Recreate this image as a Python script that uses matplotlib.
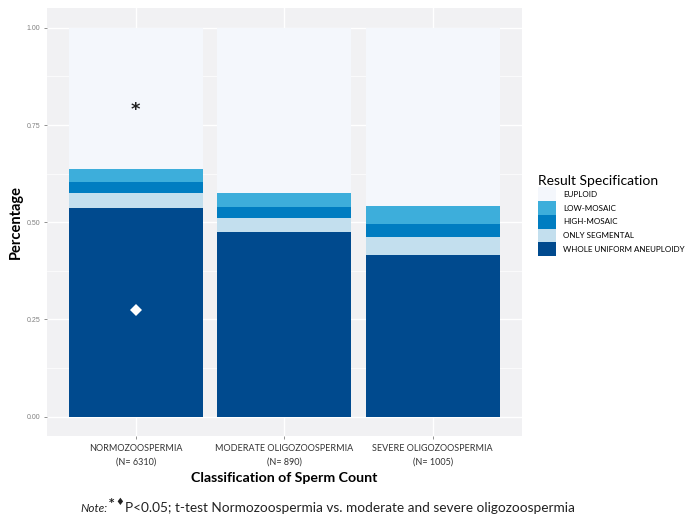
import matplotlib
matplotlib.use("Agg")
import matplotlib.pyplot as plt
from matplotlib.patches import Patch
import numpy as np

categories = ["NORMOZOOSPERMIA\n(N= 6310)", "MODERATE OLIGOZOOSPERMIA\n(N= 890)", "SEVERE OLIGOZOOSPERMIA\n(N= 1005)"]
series_names = ["WHOLE UNIFORM ANEUPLOIDY", "ONLY SEGMENTAL", "HIGH-MOSAIC", "LOW-MOSAIC", "EUPLOID"]
whole = [0.537, 0.475, 0.415]
segmental = [0.039, 0.037, 0.048]
high_mosaic = [0.028, 0.026, 0.033]
low_mosaic = [0.033, 0.037, 0.046]
euploid = [0.363, 0.425, 0.458]
colors = {"WHOLE UNIFORM ANEUPLOIDY": "#004A8E", "ONLY SEGMENTAL": "#C3DFEE",
          "HIGH-MOSAIC": "#007DC1", "LOW-MOSAIC": "#3DAEDB", "EUPLOID": "#F4F7FC"}
yticks = [0.0, 0.25, 0.5, 0.75, 1.0]
ytick_labels = ["0.00", "0.25", "0.50", "0.75", "1.00"]

FONT = "Lato"

fig = plt.figure(figsize=(6.93, 5.14), dpi=100)
ax = fig.add_axes([0.0674, 0.1518, 0.6857, 0.8317])
ax.set_facecolor("#F1F1F3")

x = np.arange(1, len(categories) + 1)
values = [whole, segmental, high_mosaic, low_mosaic, euploid]
bottom = np.zeros(len(categories))
for name, vals in zip(series_names, values):
    ax.bar(x, vals, width=0.9, bottom=bottom, color=colors[name], linewidth=0, zorder=3)
    bottom += np.array(vals)

ax.set_xlim(0.4, 3.6)
ax.set_ylim(-0.05, 1.05)
ax.set_yticks(yticks)
ax.set_yticklabels(ytick_labels, family="Liberation Sans")
ax.set_yticks([0.125, 0.375, 0.625, 0.875], minor=True)
ax.set_xticks(x)
ax.set_xticklabels(categories, family=FONT, fontsize=6.5, color="#333333", linespacing=1.6)
ax.tick_params(axis="y", labelsize=5, labelcolor="#808080", length=2.5, color="#808080", width=0.6, pad=2)
ax.tick_params(axis="y", which="minor", length=0)
ax.tick_params(axis="x", length=2.5, color="#808080", width=0.6, pad=3.5)
ax.grid(True, which="major", color="white", linewidth=1.0, zorder=0)
ax.grid(True, which="minor", axis="y", color="white", linewidth=0.5, zorder=0)
for s in ax.spines.values():
    s.set_visible(False)

ax.set_ylabel("Percentage", family=FONT, fontsize=10.5, fontweight="bold")
ax.yaxis.set_label_coords(-0.05, 0.5)
ax.set_xlabel("Classification of Sperm Count", family=FONT, fontsize=10.2, fontweight="bold")
ax.xaxis.set_label_coords(0.5, -0.084)

# significance markers
ax.text(x[0], 0.79, "*", ha="center", va="center", fontsize=13, fontweight="bold", color="#222222", zorder=5)
ax.plot([x[0]], [0.275], marker="D", markersize=6.5, color="white", markeredgewidth=0, zorder=5)

handles = [Patch(facecolor=colors[n], edgecolor="none") for n in series_names[::-1]]
leg = fig.legend(handles, series_names[::-1], loc="upper left", bbox_to_anchor=(0.772, 0.665),
                 frameon=False, title="Result Specification",
                 prop={"family": FONT, "size": 5.8},
                 title_fontproperties={"family": FONT, "size": 10},
                 handlelength=2.2, handleheight=2.25, labelspacing=0.0, handletextpad=0.9,
                 borderaxespad=0)
leg._legend_box.align = "left"
leg._legend_handle_box.set_offset  # keep default offsets

fig.text(0.116, 0.004, "Note:", family=FONT, style="italic", fontsize=8.5, color="#222222")
fig.text(0.157, 0.016, "*", family="DejaVu Sans", fontsize=7.5, fontweight="bold", color="#222222")
fig.text(0.167, 0.018, "\u2666", family="DejaVu Sans", fontsize=7, color="#222222")
fig.text(0.181, 0.004, "P<0.05; t-test Normozoospermia vs. moderate and severe oligozoospermia",
         family=FONT, fontsize=9.8, color="#222222")

fig.savefig("out.png", dpi=100)
